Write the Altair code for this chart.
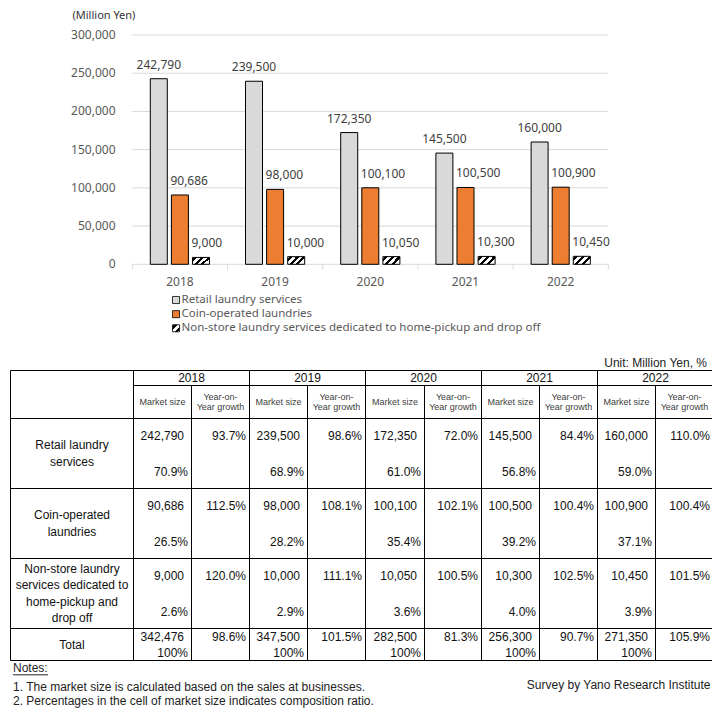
import altair as alt
import pandas as pd

# ---------------- data ----------------
YEARS = ["2018", "2019", "2020", "2021", "2022"]
SERIES = ["Retail laundry services",
          "Coin-operated laundries",
          "Non-store laundry services dedicated to home-pickup and drop off"]
RETAIL = [242790, 239500, 172350, 145500, 160000]
COIN = [90686, 98000, 100100, 100500, 100900]
NONSTORE = [9000, 10000, 10050, 10300, 10450]
TOTAL = [342476, 347500, 282500, 256300, 271350]
YOY_RETAIL = [93.7, 98.6, 72.0, 84.4, 110.0]
YOY_COIN = [112.5, 108.1, 102.1, 100.4, 100.4]
YOY_NONSTORE = [120.0, 111.1, 100.5, 102.5, 101.5]
YOY_TOTAL = [98.6, 101.5, 81.3, 90.7, 105.9]
SHARE_RETAIL = [70.9, 68.9, 61.0, 56.8, 59.0]
SHARE_COIN = [26.5, 28.2, 35.4, 39.2, 37.1]
SHARE_NONSTORE = [2.6, 2.9, 3.6, 4.0, 3.9]
Y_TICKS = [0, 50000, 100000, 150000, 200000, 250000, 300000]
Y_MAX = 300000
ROW_LABELS = [["Retail laundry", "services"],
              ["Coin-operated", "laundries"],
              ["Non-store laundry", "services dedicated to", "home-pickup and", "drop off"],
              ["Total"]]
SUB_MS = ["Market size"]
SUB_YOY = ["Year-on-", "Year growth"]
TOTAL_SHARE = "100%"
AXIS_TITLE = "(Million Yen)"
UNIT_TEXT = "Unit: Million Yen, %"
NOTES = ["Notes:",
         "1. The market size is calculated based on the sales at businesses.",
         "2. Percentages in the cell of market size indicates composition ratio."]
SOURCE = "Survey by Yano Research Institute"

# ---------------- layout (page pixels) ----------------
W, H = 704, 703
M = 8
PLOT_L, PLOT_R, PLOT_T, PLOT_B = 132.3, 608.3, 35.0, 264.3
YLAB_X = 115.5
YEAR_LAB_Y = 281.7
TICK_LEN = 5
LABEL_DY = -14
TITLE_X, TITLE_Y = 72.5, 16
LEG_SQ_X, LEG_TXT_X, LEG_Y0, LEG_STEP = 176.0, 181.5, 300.0, 14.15
COL_EDGES = [10.5, 133.5, 191.5, 249.5, 307.5, 365.5, 424.5, 481.5, 539.5, 597.5, 655.5, 713.5]
ROW_EDGES = [370.5, 385.5, 418.5, 488.5, 558.5, 628.5, 660.5]
LINE_H = 16.3
UNIT_X, UNIT_Y = 707, 362.7
NOTE_X, NOTE_Y = 13, [668.3, 686.7, 701.2]
SOURCE_X, SOURCE_Y = 710.5, 685
CHART_FONT = "Noto Sans"
TABLE_FONT = "Liberation Sans"
GRID = "#D9D9D9"
AX_TXT = "#595959"
LAB_TXT = "#404040"
C_RETAIL, C_COIN = "#D9D9D9", "#ED7D31"


def stripes(n, frac, x2, y2):
    stops = [{"offset": 0, "color": "white"}]
    per = 1.0 / n
    for k in range(n):
        a = k * per + per * (1 - frac) / 2
        b = a + per * frac
        stops += [{"offset": a, "color": "white"}, {"offset": a, "color": "black"},
                  {"offset": b, "color": "black"}, {"offset": b, "color": "white"}]
    stops.append({"offset": 1, "color": "white"})
    return {"gradient": "linear", "x1": 0, "y1": 0, "x2": x2, "y2": y2, "stops": stops}


HATCH_BAR = stripes(3, 0.45, 1, 0.44)
HATCH_LEG = stripes(2, 0.5, 1, 1)
FILLS = [C_RETAIL, C_COIN, HATCH_BAR]
LEG_FILLS = [C_RETAIL, C_COIN, HATCH_LEG]

# ---------------- bar chart group ----------------
bars = pd.DataFrame([{"year": y, "series": s, "value": v}
                     for s, vals in zip(SERIES, [RETAIL, COIN, NONSTORE])
                     for y, v in zip(YEARS, vals)])
ticks = pd.DataFrame({"v": Y_TICKS})
years_df = pd.DataFrame({"year": YEARS})

xband = alt.Scale(domain=YEARS, range=[PLOT_L - M, PLOT_R - M], paddingInner=0, paddingOuter=0)
yval = alt.Scale(domain=[0, Y_MAX], range=[PLOT_B - M, PLOT_T - M], nice=False, zero=True)
xoff = alt.Scale(domain=SERIES, paddingInner=0.194, paddingOuter=0.853)

grid = alt.Chart(ticks).mark_rule(color=GRID, strokeWidth=1).encode(
    y=alt.Y("v:Q", scale=yval, axis=None),
    x=alt.value(PLOT_L - M), x2=alt.value(PLOT_R - M))
ylabels = alt.Chart(ticks).mark_text(align="right", baseline="middle", font=CHART_FONT,
                                      fontSize=12, color=AX_TXT).encode(
    y=alt.Y("v:Q", scale=yval, axis=None), x=alt.value(YLAB_X - M),
    text=alt.Text("v:Q", format=","))
xticks = alt.Chart(years_df).mark_rule(color=GRID, strokeWidth=1).encode(
    x=alt.X("year:N", scale=xband, axis=None, bandPosition=0),
    y=alt.value(PLOT_B - M), y2=alt.value(PLOT_B - M + TICK_LEN))
xtick_end = alt.Chart(years_df).transform_filter(alt.datum.year == YEARS[-1]).mark_rule(
    color=GRID, strokeWidth=1).encode(
    x=alt.X("year:N", scale=xband, axis=None, bandPosition=1),
    y=alt.value(PLOT_B - M), y2=alt.value(PLOT_B - M + TICK_LEN))
year_labels = alt.Chart(years_df).mark_text(baseline="middle", font=CHART_FONT, fontSize=12,
                                            color=AX_TXT).encode(
    x=alt.X("year:N", scale=xband, axis=None), y=alt.value(YEAR_LAB_Y - M), text="year:N")

bar_layers = []
label_layers = []
for i, s in enumerate(SERIES):
    base = alt.Chart(bars).transform_filter(alt.datum.series == s)
    bar_layers.append(base.mark_bar(fill=FILLS[i], stroke="black", strokeWidth=1).encode(
        x=alt.X("year:N", scale=xband, axis=None),
        xOffset=alt.XOffset("series:N", scale=xoff),
        y=alt.Y("value:Q", scale=yval, axis=None)))
    if i == 0:
        mk = dict(align="center", dy=LABEL_DY)
    else:
        mk = dict(align="left", dy=LABEL_DY, dx=-9.5)
    label_layers.append(base.mark_text(baseline="middle", font=CHART_FONT, fontSize=12,
                                       color=LAB_TXT, **mk).encode(
        x=alt.X("year:N", scale=xband, axis=None),
        xOffset=alt.XOffset("series:N", scale=xoff),
        y=alt.Y("value:Q", scale=yval, axis=None),
        text=alt.Text("value:Q", format=",")))

chart_group = alt.layer(grid, ylabels, xticks, xtick_end, *bar_layers, *label_layers, year_labels)

# ---------------- pixel group: legend, table, notes ----------------
PX = alt.Scale(domain=[M, M + W], range=[0, W], nice=False, zero=False)
PY = alt.Scale(domain=[M, M + H], range=[0, H], nice=False, zero=False)


def text_layer(rows, align, size, color, font=TABLE_FONT):
    return alt.Chart(pd.DataFrame(rows)).mark_text(
        align=align, baseline="middle", font=font, fontSize=size, color=color).encode(
        x=alt.X("x:Q", scale=PX, axis=None), y=alt.Y("y:Q", scale=PY, axis=None), text="text:N")


# legend
leg_txt = [{"x": LEG_TXT_X, "y": LEG_Y0 + i * LEG_STEP, "text": s} for i, s in enumerate(SERIES)]
leg_sq_layers = []
for i, s in enumerate(SERIES):
    leg_sq_layers.append(alt.Chart(pd.DataFrame([{"x": LEG_SQ_X, "y": LEG_Y0 + i * LEG_STEP}])).mark_square(
        size=50, fill=LEG_FILLS[i], stroke="black", strokeWidth=0.8, opacity=1, fillOpacity=1).encode(
        x=alt.X("x:Q", scale=PX, axis=None), y=alt.Y("y:Q", scale=PY, axis=None)))
title_txt = [{"x": TITLE_X, "y": TITLE_Y, "text": AXIS_TITLE}]

# table text
center_rows, small_rows, right_rows = [], [], []
for j, y in enumerate(YEARS):
    xl, xr = COL_EDGES[1 + 2 * j], COL_EDGES[3 + 2 * j]
    center_rows.append({"x": (xl + xr) / 2, "y": (ROW_EDGES[0] + ROW_EDGES[1]) / 2 + 0.3, "text": y})
    ms_c = (COL_EDGES[1 + 2 * j] + COL_EDGES[2 + 2 * j]) / 2
    yo_c = (COL_EDGES[2 + 2 * j] + COL_EDGES[3 + 2 * j]) / 2
    hmid = (ROW_EDGES[1] + ROW_EDGES[2]) / 2
    small_rows.append({"x": ms_c, "y": hmid, "text": SUB_MS[0]})
    for k, t in enumerate(SUB_YOY):
        small_rows.append({"x": yo_c, "y": hmid + (k - 0.5) * 10.6, "text": t})

cat_vals = [RETAIL, COIN, NONSTORE, TOTAL]
cat_yoy = [YOY_RETAIL, YOY_COIN, YOY_NONSTORE, YOY_TOTAL]
cat_share = [SHARE_RETAIL, SHARE_COIN, SHARE_NONSTORE, None]
for r in range(4):
    top, bot = ROW_EDGES[2 + r], ROW_EDGES[3 + r]
    mid = (top + bot) / 2
    lines = ROW_LABELS[r]
    for k, t in enumerate(lines):
        center_rows.append({"x": (COL_EDGES[0] + COL_EDGES[1]) / 2,
                            "y": mid + (k - (len(lines) - 1) / 2) * LINE_H, "text": t})
    if r < 3:
        y1, y2 = top + 17.8, top + 53.0
    else:
        y1, y2 = top + 8.8, top + 24.2
    for j in range(len(YEARS)):
        ms_r = COL_EDGES[2 + 2 * j]
        yo_r = COL_EDGES[3 + 2 * j]
        right_rows.append({"x": ms_r - 7.5, "y": y1, "text": f"{cat_vals[r][j]:,}"})
        share = f"{cat_share[r][j]:.1f}%" if cat_share[r] is not None else TOTAL_SHARE
        right_rows.append({"x": ms_r - 3.5, "y": y2, "text": share})
        right_rows.append({"x": yo_r - 3.5, "y": y1, "text": f"{cat_yoy[r][j]:.1f}%"})

# table grid lines
L, R = COL_EDGES[0], COL_EDGES[-1]
hl = [{"x": L, "x2": R, "y": y} for i, y in enumerate(ROW_EDGES) if i != 1]
hl.append({"x": COL_EDGES[1], "x2": R, "y": ROW_EDGES[1]})
vl = []
for i, x in enumerate(COL_EDGES):
    full = i in (0, 1) or i == len(COL_EDGES) - 1 or (i % 2 == 1)
    vl.append({"x": x, "y": ROW_EDGES[0] if full else ROW_EDGES[1], "y2": ROW_EDGES[-1]})
hrules = alt.Chart(pd.DataFrame(hl)).mark_rule(color="black", strokeWidth=1).encode(
    x=alt.X("x:Q", scale=PX, axis=None), x2="x2:Q", y=alt.Y("y:Q", scale=PY, axis=None))
vrules = alt.Chart(pd.DataFrame(vl)).mark_rule(color="black", strokeWidth=1).encode(
    x=alt.X("x:Q", scale=PX, axis=None), y=alt.Y("y:Q", scale=PY, axis=None), y2="y2:Q")

notes_rows = [{"x": NOTE_X, "y": NOTE_Y[i], "text": t} for i, t in enumerate(NOTES)]
underline = alt.Chart(pd.DataFrame([{"x": NOTE_X, "x2": NOTE_X + 35, "y": NOTE_Y[0] + 6.5}])).mark_rule(
    color="#222222", strokeWidth=1).encode(
    x=alt.X("x:Q", scale=PX, axis=None), x2="x2:Q", y=alt.Y("y:Q", scale=PY, axis=None))
right_misc = [{"x": UNIT_X, "y": UNIT_Y, "text": UNIT_TEXT},
              {"x": SOURCE_X, "y": SOURCE_Y, "text": SOURCE}]

pixel_group = alt.layer(
    text_layer(title_txt, "left", 11, "#333333", CHART_FONT),
    *leg_sq_layers,
    text_layer(leg_txt, "left", 11.5, AX_TXT, CHART_FONT),
    hrules, vrules,
    text_layer(center_rows, "center", 12, "#111111"),
    text_layer(small_rows, "center", 9, "#404040"),
    text_layer(right_rows, "right", 12, "#111111"),
    text_layer(notes_rows, "left", 12, "#222222"),
    underline,
    text_layer(right_misc, "right", 12, "#222222"),
)

chart = alt.layer(chart_group, pixel_group).resolve_scale(
    x="independent", y="independent"
).properties(
    width=W, height=H, padding=0, autosize=alt.AutoSizeParams(type="none"),
    background="white"
).configure_view(strokeWidth=0)

chart.save("out.html", embed_options={"renderer": "svg", "actions": False})
